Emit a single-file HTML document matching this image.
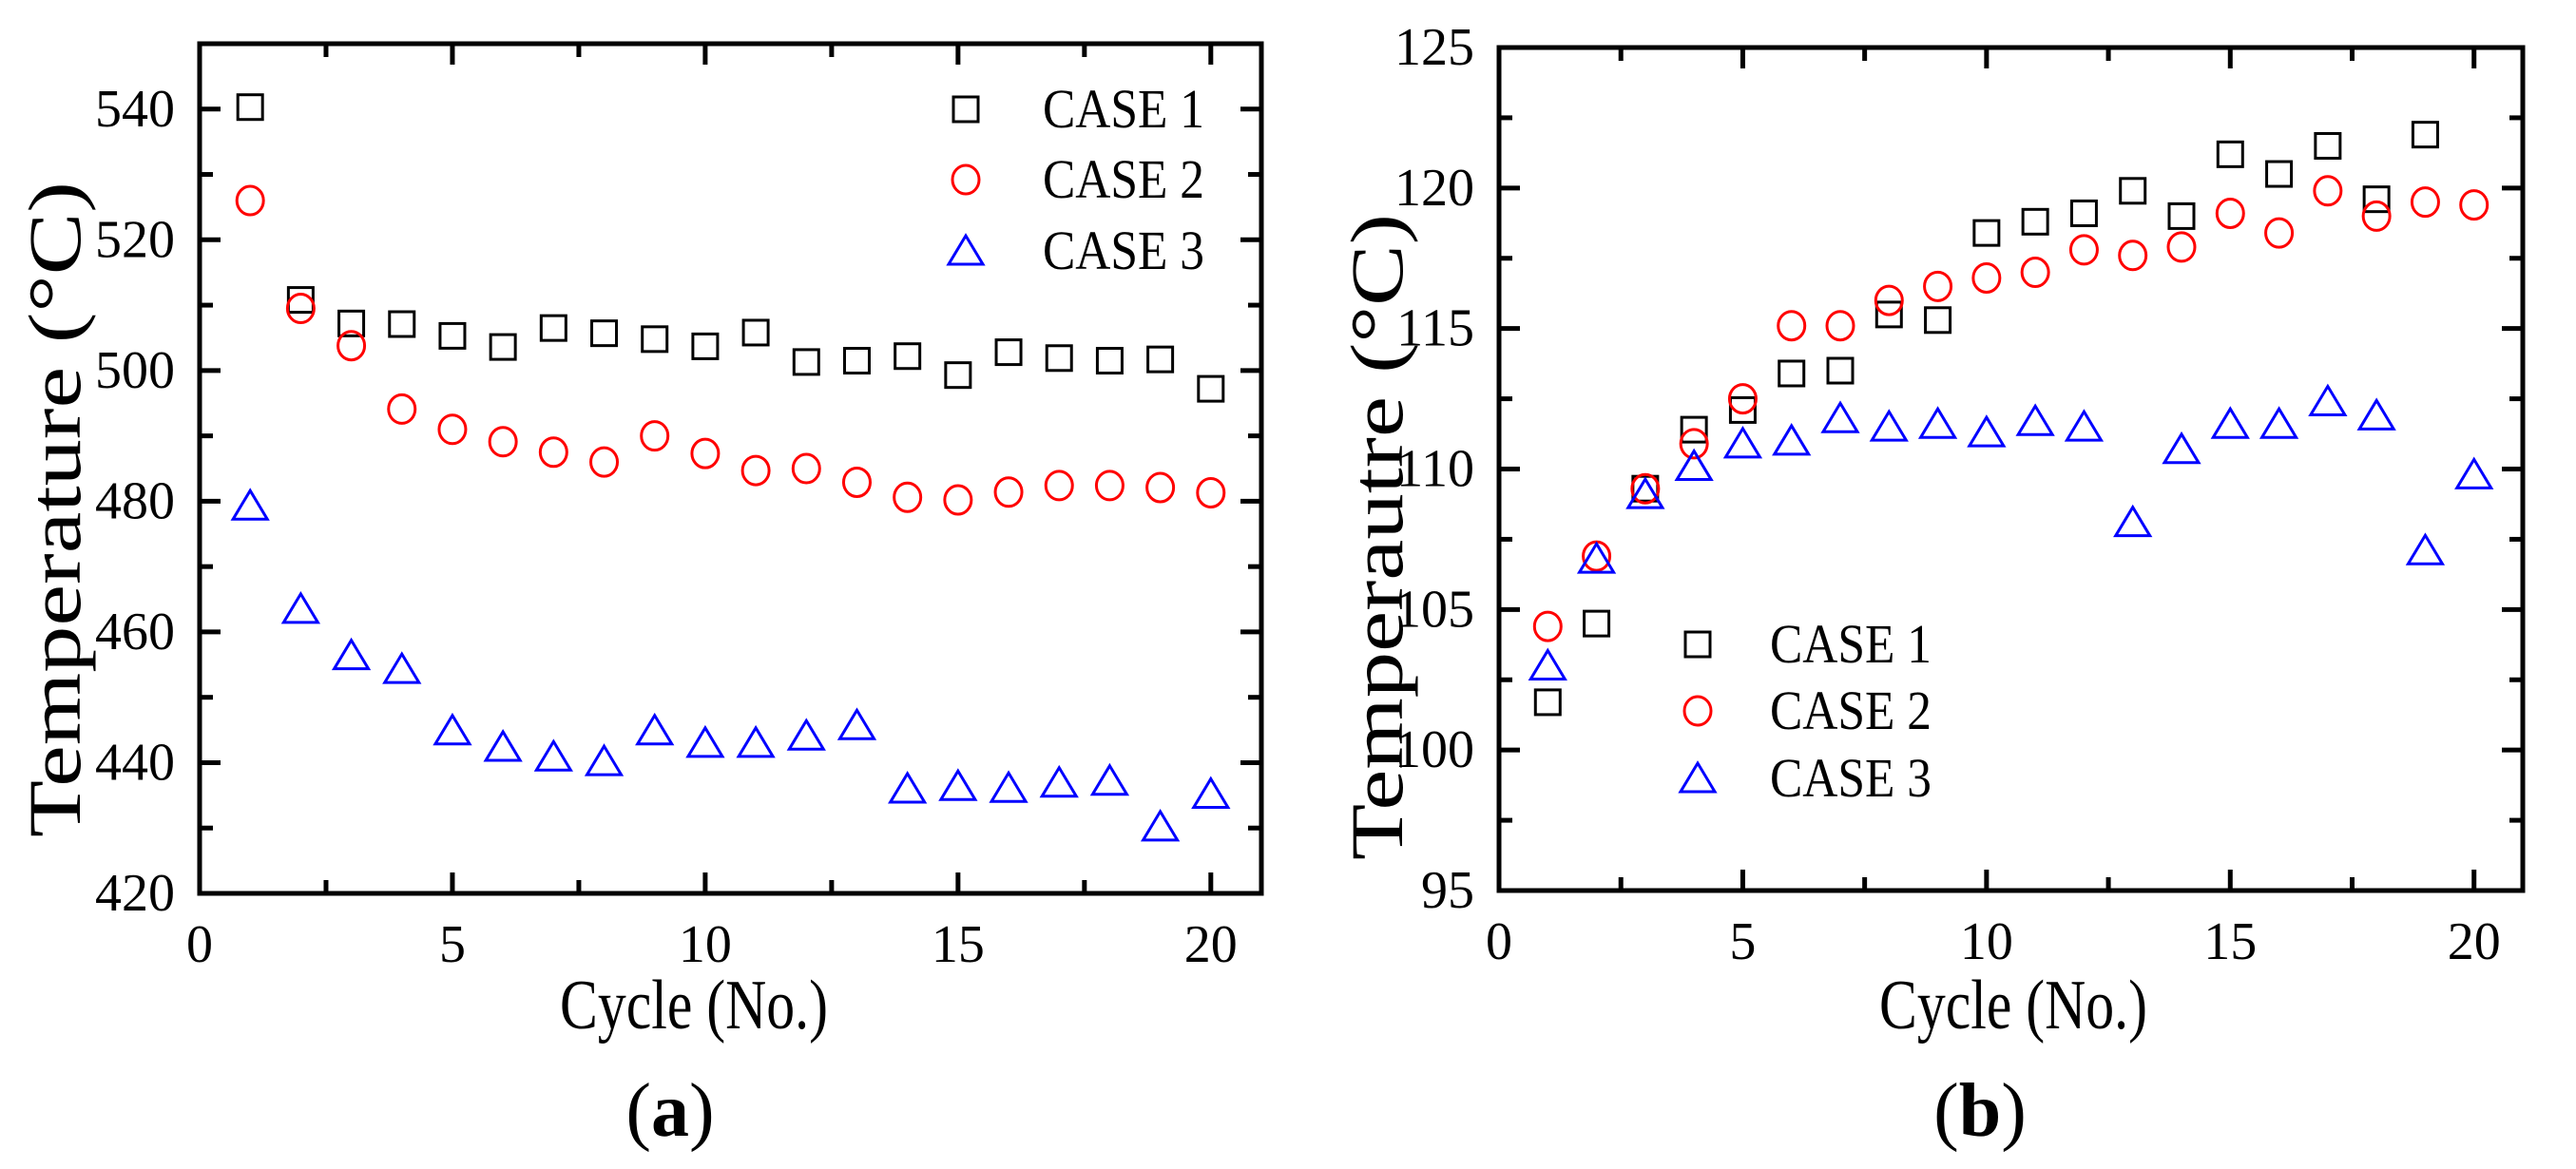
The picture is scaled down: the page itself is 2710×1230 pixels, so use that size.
<!DOCTYPE html>
<html><head><meta charset="utf-8"><style>
body{margin:0;background:#fff}
svg{display:block}
text{font-family:"Liberation Serif",serif;fill:#000}
</style></head><body>
<svg id="s" width="2710" height="1230" viewBox="0 0 2710 1230"></svg>
<script>
const cycles=[1,2,3,4,5,6,7,8,9,10,11,12,13,14,15,16,17,18,19,20];
const aCase1=[540.3,510.8,507.2,507.1,505.3,503.6,506.5,505.7,504.8,503.7,505.8,501.3,501.5,502.2,499.3,502.8,501.9,501.5,501.7,497.2];
const aCase2=[526,509.5,503.8,494.1,491.0,489.1,487.5,486.0,490.0,487.3,484.7,485.0,482.9,480.6,480.2,481.4,482.4,482.4,482.1,481.3];
const aCase3=[479.3,463.5,456.4,454.3,444.9,442.4,440.9,440.2,444.9,443.0,443.0,444.1,445.7,436.0,436.4,436.1,436.9,437.2,430.2,435.2];
const bCase1=[101.7,104.5,109.3,111.4,112.1,113.4,113.5,115.5,115.3,118.4,118.8,119.1,119.9,119.0,121.2,120.5,121.5,119.6,121.9];
const bCase2=[104.4,106.9,109.3,110.9,112.5,115.1,115.1,116.0,116.5,116.8,117.0,117.8,117.6,117.9,119.1,118.4,119.9,119.0,119.5,119.4];
const bCase3=[103.0,106.8,109.1,110.1,110.9,111.0,111.8,111.5,111.6,111.3,111.7,111.5,108.1,110.7,111.6,111.6,112.4,111.9,107.1,109.8];
const xTicks=[0,5,10,15,20];
const aYTicks=[420,440,460,480,500,520,540];
const bYTicks=[95,100,105,110,115,120,125];
const legendLabels=['CASE 1','CASE 2','CASE 3'];

const NS='http://www.w3.org/2000/svg';
const svg=document.getElementById('s');
function mk(tag,attrs,parent){const e=document.createElementNS(NS,tag);for(const k in attrs)e.setAttribute(k,attrs[k]);(parent||svg).appendChild(e);return e;}

function marker(g,type,cx,cy){
  let e;
  if(type===0){e=mk('rect',{x:cx-13,y:cy-13,width:26,height:26,fill:'none',stroke:'#000','stroke-width':3},g);}
  else if(type===1){e=mk('ellipse',{cx:cx,cy:cy,rx:14,ry:15,fill:'none',stroke:'#f00','stroke-width':3},g);}
  else {e=mk('polygon',{points:`${cx},${cy-16} ${cx+18},${cy+14} ${cx-18},${cy+14}`,fill:'none',stroke:'#00f','stroke-width':3},g);}
  return e;
}

function panel(o){
  const g=mk('g',{});
  
  
  const X=v=>o.x0+(v-0)*(o.x1-o.x0)/21;
  const Y=v=>o.y0-(v-o.ymin)*(o.y0-o.y1)/(o.ymax-o.ymin);
  for(let v=0;v<=20;v+=2.5){
    const major=v%5===0;const L=major?22:14;
    const t1=mk('line',{x1:X(v),x2:X(v),y1:o.y0,y2:o.y0-L,stroke:'#000','stroke-width':5},g);
    
    const t2=mk('line',{x1:X(v),x2:X(v),y1:o.y1,y2:o.y1+L,stroke:'#000','stroke-width':5},g);
    
  }
  const step=(o.yticks[1]-o.yticks[0])/2;
  for(let v=o.ymin;v<=o.ymax+1e-9;v+=step){
    const major=Math.abs(((v-o.ymin)/step)%2)<1e-6;const L=major?22:14;
    const t1=mk('line',{x1:o.x0,x2:o.x0+L,y1:Y(v),y2:Y(v),stroke:'#000','stroke-width':5},g);
    
    const t2=mk('line',{x1:o.x1,x2:o.x1-L,y1:Y(v),y2:Y(v),stroke:'#000','stroke-width':5},g);
    
  }
  const fr=mk('rect',{x:o.x0,y:o.y1,width:o.x1-o.x0,height:o.y0-o.y1,fill:'none',stroke:'#000','stroke-width':5},g);
  
  xTicks.forEach(v=>{
    const t=mk('text',{x:X(v),y:o.y0+72,'font-size':56,'text-anchor':'middle'},g);t.textContent=v;
    
  });
  o.yticks.forEach(v=>{
    const t=mk('text',{x:o.x0-26,y:Y(v)+18,'font-size':56,'text-anchor':'end'},g);t.textContent=v;
    
  });
  const xt=mk('text',{x:o.xtx,y:1082,'font-size':74,'text-anchor':'middle',textLength:282,lengthAdjust:'spacingAndGlyphs'},g);xt.textContent='Cycle (No.)';
  
  const yt=mk('text',{x:0,y:0,'font-size':78,'text-anchor':'middle',textLength:o.ytl,lengthAdjust:'spacingAndGlyphs',transform:`translate(${o.ytx},${o.yty}) rotate(-90)`},g);
  yt.textContent=o.ytitle;
  
  const pl=mk('text',{x:o.plx,y:1195,'font-size':80,'text-anchor':'middle'},g);
  pl.innerHTML='(<tspan font-weight="bold">'+o.letter+'</tspan>)';
  
  o.series.forEach((ser,si)=>{
    ser.forEach((v,i)=>{
      const m=marker(g,si,X(cycles[i]),Y(v));
      
      
    });
  });
  legendLabels.forEach((lab,i)=>{
    const y=o.legY[i];
    const m=marker(g,i,o.legMX,y);
    
    
    const t=mk('text',{x:o.legTX,y:y+19,'font-size':58,textLength:170,lengthAdjust:'spacingAndGlyphs'},g);t.textContent=lab;
    
    
  });
}
panel({name:'chart-a',x0:210,x1:1327,y0:940,y1:46,ymin:420,ymax:550,yticks:aYTicks,
  series:[aCase1,aCase2,aCase3],xtx:730,ytx:84,yty:536,ytl:690,ytitle:'Temperature (°C)',plx:705,letter:'a',
  legMX:1016,legTX:1097,legY:[115,189,264]});
panel({name:'chart-b',x0:1577,x1:2654,y0:937,y1:50,ymin:95,ymax:125,yticks:bYTicks,
  series:[bCase1,bCase2,bCase3],xtx:2118,ytx:1475,yty:565,ytl:680,ytitle:'Temperautre (°C)',plx:2083,letter:'b',
  legMX:1786,legTX:1862,legY:[678,748,819]});
</script>
</body></html>
